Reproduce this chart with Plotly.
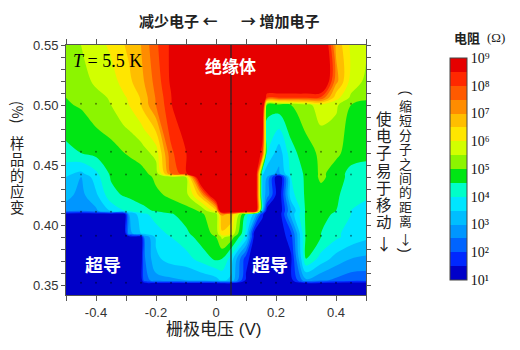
import plotly.graph_objects as go

# ---------------- data (log10 of resistance in ohm) ----------------
GATE_V = [-0.5, -0.45, -0.4, -0.35, -0.305, -0.29, -0.25, -0.24, -0.2, -0.15, -0.1, -0.05,
          0.0, 0.02, 0.05, 0.1, 0.13, 0.155, 0.17, 0.21, 0.25, 0.3, 0.35, 0.4, 0.45, 0.5]
STRAIN = [0.3417, 0.351, 0.354, 0.372, 0.390, 0.393, 0.409, 0.412, 0.425, 0.44, 0.443,
          0.46, 0.50, 0.506, 0.52, 0.55]
LOG_R_0342 = [1.1] * 26
LOG_R_0351 = [1.1] * 26
LOG_R_0354 = [1.1, 1.1, 1.1, 1.1, 1.1, 1.1, 1.1, 2.2, 2.8, 2.9, 3.0, 3.1, 3.3, 3.6, 3.4, 1.4,
              1.1, 1.1, 1.1, 1.1, 1.3, 2.9, 2.6, 2.4, 2.2, 2.2]
LOG_R_0372 = [1.1, 1.1, 1.1, 1.1, 1.1, 1.1, 1.1, 2.4, 3.4, 3.7, 3.8, 4.2, 4.6, 4.5, 3.8, 1.7,
              1.1, 1.1, 1.1, 1.1, 1.4, 4.5, 3.8, 3.3, 3.0, 2.9]
LOG_R_0390 = [1.1, 1.1, 1.1, 1.1, 1.1, 1.1, 1.1, 2.5, 3.6, 4.0, 4.3, 4.7, 5.0, 5.6, 5.3, 3.8,
              1.1, 1.1, 1.1, 1.1, 1.8, 4.6, 4.5, 4.1, 3.8, 3.6]
LOG_R_0393 = [1.1, 1.1, 1.1, 1.1, 1.1, 2.8, 3.5, 3.6, 3.8, 4.1, 4.4, 4.8, 5.1, 6.4, 6.0, 3.9,
              1.1, 1.1, 1.1, 1.1, 1.9, 4.6, 4.5, 4.1, 3.8, 3.6]
LOG_R_0409 = [1.1, 1.1, 1.1, 1.1, 1.1, 3.0, 3.8, 3.9, 4.2, 4.45, 4.7, 4.95, 5.2, 7.1, 6.9, 4.3,
              3.3, 1.6, 1.1, 1.1, 3.2, 4.6, 4.7, 4.4, 4.0, 3.8]
LOG_R_0412 = [2.8, 2.6, 2.9, 3.6, 4.0, 4.1, 4.35, 4.4, 4.55, 4.7, 4.85, 5.05, 6.3, 10, 10, 10,
              10, 3.0, 1.2, 1.0, 3.0, 4.6, 4.7, 4.5, 4.0, 3.8]
LOG_R_0425 = [3.15, 2.85, 3.4, 4.35, 4.55, 4.6, 4.7, 4.7, 4.9, 5.1, 5.3, 6.8, 10, 10, 10, 10,
              10, 3.3, 2.8, 1.0, 3.8, 4.6, 4.8, 4.6, 4.2, 4.1]
LOG_R_0440 = [3.5, 2.95, 3.8, 4.55, 4.65, 4.7, 4.8, 4.8, 5.1, 5.3, 5.5, 10, 10, 10, 10, 10,
              10, 3.4, 3.0, 0.8, 4.0, 4.6, 5.1, 4.8, 4.3, 4.2]
LOG_R_0443 = [3.6, 3.4, 3.9, 4.6, 4.7, 4.75, 4.85, 4.9, 5.2, 7.5, 8.4, 10, 10, 10, 10, 10,
              10, 3.6, 3.2, 2.9, 4.1, 4.6, 5.1, 4.8, 4.3, 4.2]
LOG_R_0460 = [4.35, 4.5, 4.65, 4.8, 5.0, 5.05, 5.2, 5.3, 5.7, 7.9, 8.45, 10, 10, 10, 10, 10,
              10, 8.0, 4.0, 3.2, 4.3, 4.8, 5.1, 5.1, 4.8, 4.7]
LOG_R_0500 = [4.95, 5.05, 5.3, 5.5, 5.9, 6.0, 6.5, 6.7, 7.5, 8.4, 10, 10, 10, 10, 10, 10,
              10, 10, 4.7, 4.8, 5.0, 5.3, 5.8, 5.6, 5.0, 4.8]
LOG_R_0506 = [5.0, 5.1, 5.35, 5.55, 5.95, 6.05, 6.55, 6.75, 7.55, 8.45, 10, 10, 10, 10, 10, 10,
              10, 10, 8.0, 8.0, 8.0, 8.0, 7.9, 6.2, 5.4, 5.1]
LOG_R_0520 = [5.1, 5.3, 5.6, 5.8, 6.2, 6.4, 6.8, 7.0, 7.7, 8.6, 10, 10, 10, 10, 10, 10,
              10, 10, 10, 10, 10, 10, 10, 7.2, 5.8, 5.4]
LOG_R_0550 = [5.2, 5.5, 5.8, 6.1, 6.5, 6.6, 7.0, 7.2, 7.9, 8.6, 10, 10, 10, 10, 10, 10,
              10, 10, 10, 10, 10, 10, 10, 6.9, 5.9, 5.6]

# measurement points
DOT_V = [-0.45, -0.4, -0.35, -0.3, -0.25, -0.2, -0.15, -0.1, -0.05, 0.0, 0.05, 0.1, 0.15,
         0.2, 0.25, 0.3, 0.35, 0.4, 0.45]
DOT_STRAIN = [0.352, 0.391, 0.411, 0.442, 0.461, 0.501]
NEUTRAL_V = 0.05

XTICKS = [-0.4, -0.2, 0.0, 0.2, 0.4]
XTICKLABELS = ["-0.4", "-0.2", "0", "0.2", "0.4"]
XMINOR = [-0.5, -0.3, -0.1, 0.1, 0.3, 0.5]
YTICKS = [0.35, 0.40, 0.45, 0.50, 0.55]
YTICKLABELS = ["0.35", "0.40", "0.45", "0.50", "0.55"]
YMINOR = [0.36, 0.37, 0.38, 0.39, 0.41, 0.42, 0.43, 0.44, 0.46, 0.47, 0.48, 0.49,
          0.51, 0.52, 0.53, 0.54]
CB_TICKS = [1, 2, 3, 4, 5, 6, 7, 8, 9]
CB_LABELS = ["10¹", "10²", "10³", "10⁴", "10⁵", "10⁶", "10⁷", "10⁸", "10⁹"]

LEVEL_COLORS = ["#0000c8", "#0028ff", "#0064ff", "#0096ff", "#00beff", "#00e6ff",
                "#00ffc8", "#00e614", "#8cf500", "#d2ff00", "#ffe600", "#ffbe00",
                "#ff8c00", "#ff5a00", "#ff2800", "#e60000"]

# ---------------- figure ----------------
Z = [LOG_R_0342, LOG_R_0351, LOG_R_0354, LOG_R_0372, LOG_R_0390, LOG_R_0393, LOG_R_0409,
     LOG_R_0412, LOG_R_0425, LOG_R_0440, LOG_R_0443, LOG_R_0460, LOG_R_0500, LOG_R_0506,
     LOG_R_0520, LOG_R_0550]

n = len(LEVEL_COLORS)
colorscale = []
for i, c in enumerate(LEVEL_COLORS):
    colorscale.append([i / n, c])
    colorscale.append([(i + 1) / n, c])

L, R, T, B = 66, 154, 45, 55
W, H = 520, 350
PW, PH = W - L - R, H - T - B


def xp(px):
    return (px - L) / PW


def yp(py):
    return (H - B - py) / PH


CJK = "Noto Sans CJK SC"
STACK_FONT = "Liberation Sans, Noto Sans CJK SC"

fig = go.Figure()
fig.add_trace(go.Contour(
    x=GATE_V, y=STRAIN, z=Z, zmin=1, zmax=9, zauto=False,
    colorscale=colorscale,
    contours=dict(start=1, end=9, size=0.5, coloring="fill", showlines=False),
    line=dict(width=0),
    hoverinfo="skip",
    colorbar=dict(
        x=xp(450), xanchor="left", xpad=0,
        y=yp(169), yanchor="middle", ypad=0,
        len=222, lenmode="pixels", thickness=17, thicknessmode="pixels",
        outlinewidth=1, outlinecolor="#444",
        tickmode="array", tickvals=CB_TICKS, ticktext=CB_LABELS, ticks="",
        tickfont=dict(family="Liberation Serif", size=14, color="#111"),
    ),
))

dx, dy = [], []
for s in DOT_STRAIN:
    for v in DOT_V:
        dx.append(v)
        dy.append(s)
fig.add_trace(go.Scatter(x=dx, y=dy, mode="markers", hoverinfo="skip",
                         marker=dict(size=2, color="rgba(0,0,0,0.45)")))

fig.add_shape(type="line", x0=NEUTRAL_V, x1=NEUTRAL_V, y0=STRAIN[0], y1=STRAIN[-1],
              xref="x", yref="y", line=dict(color="#222", width=1.2))

ann = []


def add(text, px, py, size, color="#222", xanchor="center", font=CJK, angle=0):
    ann.append(dict(text=text, x=xp(px), y=yp(py), xref="paper", yref="paper",
                    showarrow=False, xanchor=xanchor, yanchor="middle", textangle=angle,
                    font=dict(family=font, size=size, color=color)))


def vstack(chars, glyph_px, pitch_px):
    # stack characters upright, one per line; line pitch = 1.3 * base font size
    base = pitch_px / 1.3
    text = "<br>".join('<span style="font-size:%.1fpx">%s</span>' % (glyph_px, ch)
                       for ch in chars)
    return text, base


add("<b>减少电子 ←</b>", 219, 21, 15, xanchor="right")
add("<b>→ 增加电子</b>", 239, 21, 15, xanchor="left")
add("<i>T</i> = 5.5 K", 107, 61, 18, color="#000", font="Liberation Serif")
add("<b>绝缘体</b>", 230, 66, 17, color="white")
add("<b>超导</b>", 103, 264, 18, color="white")
add("<b>超导</b>", 270, 264, 18, color="white")
add("栅极电压 (V)", 213, 329.5, 17, font=STACK_FONT)
add("(%)", 18, 112, 14, angle=90)

# y-axis title, characters stacked upright
t, b = vstack("样品的应变", 14.3, 16)
add(t, 17, 176, b, font=STACK_FONT)

# right column: (缩短分子之间的距离↓)
add("(", 405.5, 93, 14, font="Liberation Sans", angle=90)
t, b = vstack("缩短分子之间的距离", 12.9, 14.4)
add(t, 405.5, 163.6, b, font=STACK_FONT)
add("↓", 405.5, 238, 13, font=CJK)
add(")", 405.5, 250.5, 14, font="Liberation Sans", angle=90)

# left column: 使电子易于移动↓
t, b = vstack("使电子易于移动", 15.5, 17.2)
add(t, 383.5, 170.5, b, font=STACK_FONT)
add("↓", 383.5, 243, 16, font=CJK)

add("<b>电阻</b>", 467, 38, 13, xanchor="center")
add("(Ω)", 496, 38, 13, font="Liberation Serif")

axis_common = dict(showgrid=False, zeroline=False, showline=True, linecolor="#555",
                   linewidth=1, mirror="ticks", ticks="outside", tickcolor="#555",
                   tickfont=dict(family="Liberation Sans", size=13, color="#333"))

fig.update_layout(
    width=W, height=H, margin=dict(l=L, r=R, t=T, b=B),
    paper_bgcolor="white", plot_bgcolor="white", showlegend=False,
    annotations=ann,
    xaxis=dict(range=[-0.5, 0.5], tickmode="array", tickvals=XTICKS, ticktext=XTICKLABELS,
               ticklen=5,
               minor=dict(tickmode="array", tickvals=XMINOR, ticks="outside", ticklen=5,
                          tickcolor="#555"),
               **axis_common),
    yaxis=dict(range=[STRAIN[0], 0.55], tickmode="array", tickvals=YTICKS,
               ticktext=YTICKLABELS, ticklen=4,
               minor=dict(tickmode="array", tickvals=YMINOR, ticks="outside", ticklen=4,
                          tickcolor="#555"),
               **axis_common),
)

fig.write_html("out.html")
